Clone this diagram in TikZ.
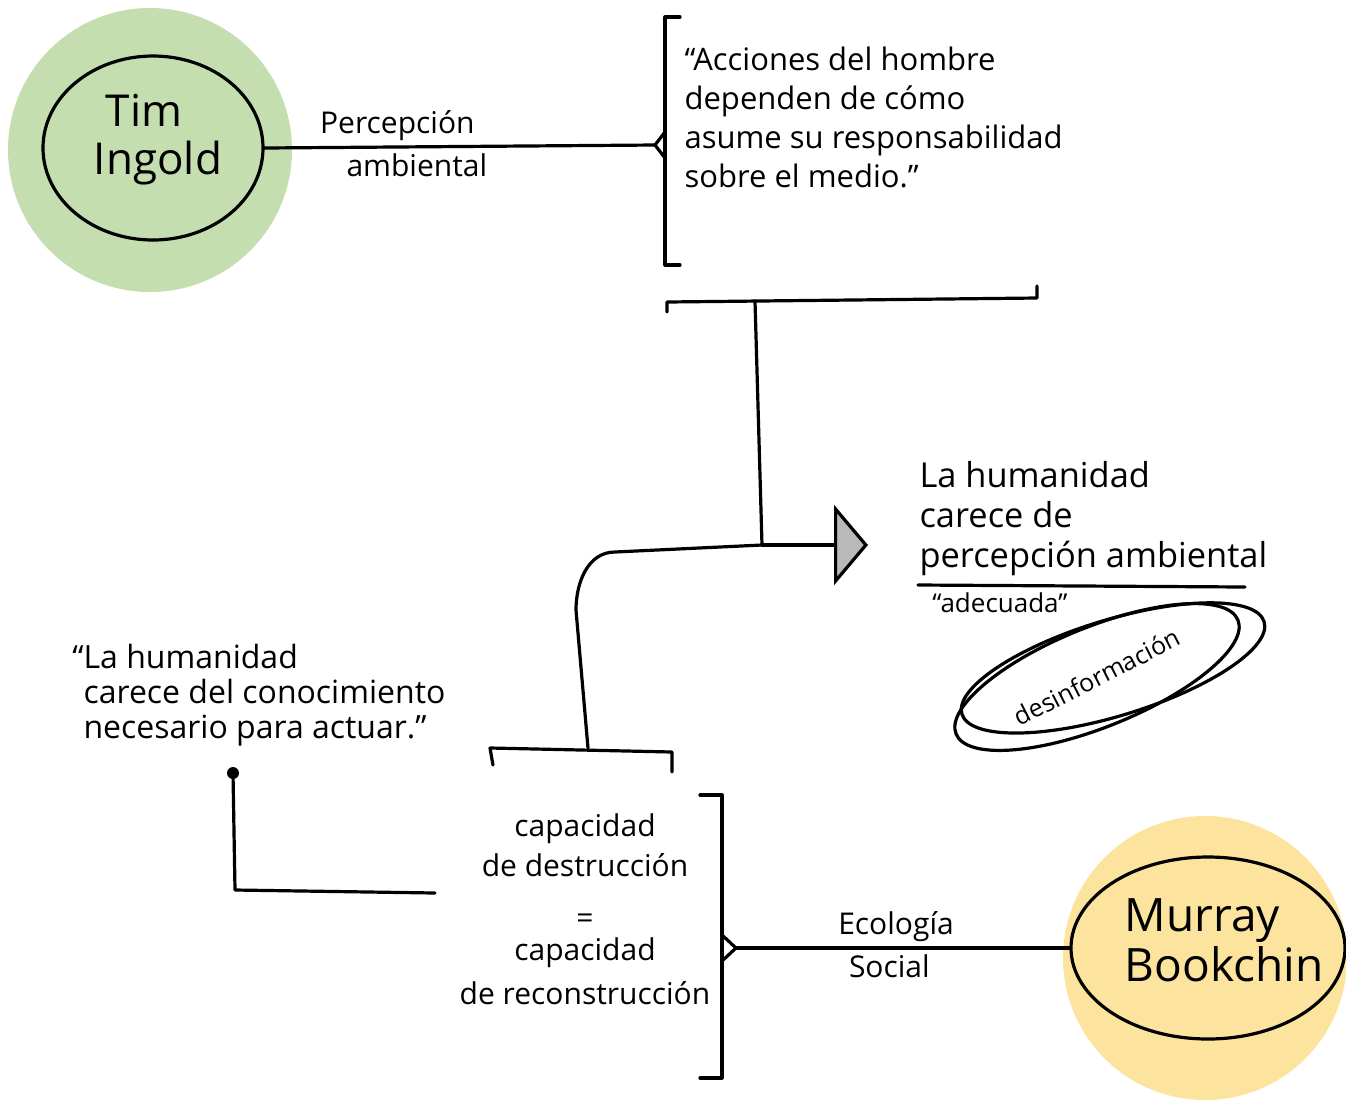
\documentclass[tikz,border=0pt]{standalone}
\usepackage{fontspec}
\setmainfont{Open Sans}
\usetikzlibrary{arrows.meta,positioning,shapes.geometric}
\definecolor{ingoldgreen}{RGB}{197,222,176}
\definecolor{bookchinyellow}{RGB}{252,228,158}

\begin{document}
\begin{tikzpicture}[x=0.5pt, y=-0.5pt, line width=1.6pt, line cap=round, line join=round,
  blob/.style={circle, fill=#1, minimum size=142pt, inner sep=0pt},
  ring/.style={ellipse, draw, inner sep=0pt},
  note/.style={align=left, inner sep=0pt, anchor=north west},
  lbl/.style={inner sep=2.5pt, font=\fontsize{15}{18}\selectfont}]
\path[use as bounding box, fill=white] (0,0) rectangle (1346,1100);

% people
\node[blob=ingoldgreen] (ingoldbg) at (150,150) {};
\node[ring, minimum width=110pt, minimum height=92pt] (ingold) at (153,148) {};
\node[align=left, font=\fontsize{22}{24}\selectfont] (ingoldname) at (158,140) {\hspace{6pt}Tim\\Ingold};
\node[blob=bookchinyellow] (bookchinbg) at (1205,958) {};
\node[ring, minimum width=137pt, minimum height=91pt] (bookchin) at (1208,948) {};
\node[align=left, font=\fontsize{23}{25}\selectfont] (bookchinname) at (1224,940) {Murray\\Bookchin};

% top quote
\coordinate (tipA) at (655,145);
\draw (680,17) -- (665,17) -- (665,265) -- (680,265);
\draw (665,132) -- (tipA) -- (665,158);
\draw (ingold.east) -- node[lbl, above, pos=0.34] {Percepción} node[lbl, below, pos=0.39] {ambiental} (tipA);
\node[note, font=\fontsize{15.5}{19.5}\selectfont] (acciones) at (683,45) {“Acciones del hombre\\dependen de cómo\\asume su responsabilidad\\sobre el medio.”};

% bar and arrow
\coordinate (barL) at (667,302);
\coordinate (barR) at (1037,298);
\coordinate (barJ) at (755,301);
\coordinate (J) at (762,545);
\coordinate (tipC) at (868,545);
\coordinate (boxN) at (588,748);
\draw (667,312) -- (barL) -- (barR) -- (1037,286);
\draw (barJ) -- (J);
\draw (boxN) -- (576,610) to[out=90, in=180] (615,552) -- (J);
\draw[-{Triangle[length=17pt, width=40pt, fill=gray!55]}] (J) -- (tipC);

\node[note, font=\fontsize{17.2}{20}\selectfont] (hum) at (918,460) {La humanidad\\carece de\\percepción ambiental};
\draw (918,585) -- (1245,587);
\node[font=\fontsize{13}{15}\selectfont] (adecuada) at (1000,603) {“adecuada”};
\node[rotate=27, font=\fontsize{12.5}{14}\selectfont] (desinf) at (1097,677) {desinformación};
\draw[rotate around={22:(desinf.center)}] (desinf.center) ellipse (76pt and 25pt);
\draw[rotate around={17:(desinf.center)}] ([xshift=9pt,yshift=2pt]desinf.center) ellipse (79pt and 24pt);

% left quote
\node[note, font=\fontsize{16}{17.5}\selectfont] (conoc) at (82,643) {\llap{“}La humanidad\\carece del conocimiento\\necesario para actuar.”};
\coordinate (dotF) at (233,773);
\coordinate (cornerF) at (235,890);
\coordinate (endF) at (435,893);
\fill (dotF) circle (3pt);
\draw (dotF) -- (cornerF) -- (endF);

% central box
\draw (493,765) -- (490,748) -- (672,752) -- (672,772);
\node[align=center, anchor=north, inner sep=0pt, font=\fontsize{15}{20}\selectfont] (capac) at (585,812) {capacidad\\de destrucción\\[6pt]=\\[-4pt]capacidad\\[2pt]de reconstrucción};
\coordinate (tipI) at (736,948);
\draw (700,795) -- (722,795) -- (722,1078) -- (700,1078);
\draw (722,935) -- (tipI) -- (722,961);
\draw (tipI) -- node[lbl, above, pos=0.48] {Ecología} node[lbl, below, pos=0.46] {Social} (bookchin.west);
\end{tikzpicture}
\end{document}
